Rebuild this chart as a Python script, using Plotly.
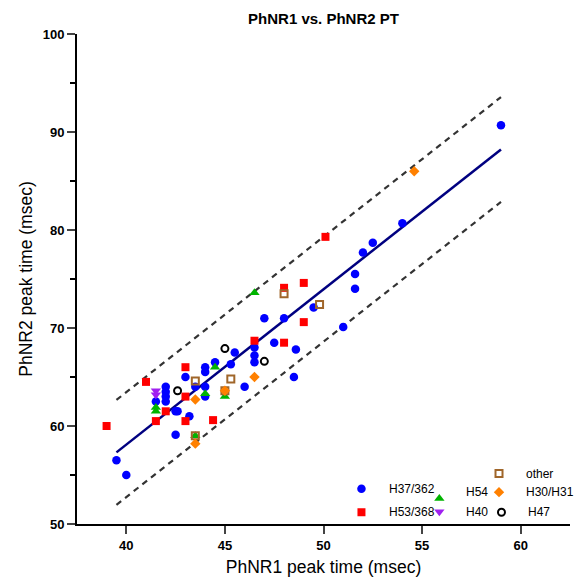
import plotly.graph_objects as go

# ---- data ----
h37_x = [39.5, 40, 41.5, 42, 42, 42, 42, 42.5, 42.6, 42.5, 43, 43.2, 43.5, 44, 44, 44, 44, 44.5,
         45.3, 45.5, 46, 46.5, 46.5, 46.5, 47, 47.5, 48, 48.5, 48.6, 49.5, 51, 51.6, 51.6, 52, 52.5, 54, 59]
h37_y = [56.5, 55, 62.5, 64, 63.5, 63, 62.5, 61.5, 61.5, 59.1, 65, 61, 64, 66, 65.5, 64, 63, 66.5,
         66.3, 67.5, 64, 68, 67.2, 66.5, 71, 68.5, 71, 65, 67.8, 72.1, 70.1, 75.5, 74, 77.7, 78.7, 80.7, 90.7]

h53_x = [39, 41, 41.5, 42, 43, 43, 43, 44.4, 46.5, 48, 48, 49, 49, 50.1]
h53_y = [60, 64.5, 60.5, 61.5, 66, 63, 60.5, 60.6, 68.7, 74.1, 68.5, 74.6, 70.6, 79.3]

h54_x = [41.5, 41.5, 43.5, 44, 44.5, 45, 46.5]
h54_y = [61.9, 61.5, 59, 63.3, 66, 63, 73.6]

h40_x = [41.5, 41.5]
h40_y = [63.6, 63.2]

other_x = [43.5, 43.5, 45, 45.3, 48, 49.8]
other_y = [64.6, 59, 63.6, 64.8, 73.5, 72.4]

h30_x = [43.5, 43.5, 45, 46.5, 54.6]
h30_y = [62.7, 58.2, 63.6, 65, 86]

h47_x = [42.6, 45, 47]
h47_y = [63.6, 67.9, 66.6]

# regression line + prediction band
fit_x = [39.5, 59.0]
fit_slope = 1.585
fit_intercept = -5.3
band_half = 5.35

x_ticks = [40, 45, 50, 55, 60]
y_ticks = [50, 60, 70, 80, 90, 100]

FONT = "Liberation Sans, Arial, sans-serif"

fit_y = [fit_slope * v + fit_intercept for v in fit_x]
up_y = [v + band_half for v in fit_y]
lo_y = [v - band_half for v in fit_y]

fig = go.Figure()

fig.add_trace(go.Scatter(x=fit_x, y=up_y, mode="lines",
                         line=dict(color="#333333", width=2.2, dash="6px,5px"), showlegend=False))
fig.add_trace(go.Scatter(x=fit_x, y=lo_y, mode="lines",
                         line=dict(color="#333333", width=2.2, dash="6px,5px"), showlegend=False))
fig.add_trace(go.Scatter(x=fit_x, y=fit_y, mode="lines",
                         line=dict(color="#000080", width=2.5), showlegend=False))

M_BLUE = dict(symbol="circle", size=8.5, color="#0000FF")
M_RED = dict(symbol="square", size=8, color="#FF0000")
M_GREEN = dict(symbol="triangle-up", size=9, color="#00B400")
M_PURPLE = dict(symbol="triangle-down", size=9, color="#A020F0")
M_BROWN = dict(symbol="square-open", size=7, color="#A0662A", line=dict(width=2, color="#A0662A"))
M_ORANGE = dict(symbol="diamond", size=8, color="#FF8000")
M_BLACK = dict(symbol="circle-open", size=7, color="#000000", line=dict(width=2, color="#000000"))

series = [
    (h37_x, h37_y, M_BLUE),
    (h53_x, h53_y, M_RED),
    (h54_x, h54_y, M_GREEN),
    (h40_x, h40_y, M_PURPLE),
    (other_x, other_y, M_BROWN),
    (h30_x, h30_y, M_ORANGE),
    (h47_x, h47_y, M_BLACK),
]
for sx, sy, mk in series:
    fig.add_trace(go.Scatter(x=sx, y=sy, mode="markers", marker=mk, showlegend=False, cliponaxis=False))

# custom legend (overlay axes spanning the plot area)
legend_items = [
    ("other", M_BROWN, 0.856, 0.103, 0.907, 0.103),
    ("H37/362", M_BLUE, 0.577, 0.072, 0.628, 0.072),
    ("H54", M_GREEN, 0.735, 0.052, 0.786, 0.066),
    ("H30/H31", M_ORANGE, 0.856, 0.065, 0.907, 0.065),
    ("H53/368", M_RED, 0.577, 0.024, 0.628, 0.024),
    ("H40", M_PURPLE, 0.735, 0.025, 0.786, 0.024),
    ("H47", M_BLACK, 0.861, 0.024, 0.911, 0.024),
]
annotations = []
for label, mk, mx, my, tx, ty in legend_items:
    fig.add_trace(go.Scatter(x=[mx], y=[my], mode="markers", marker=mk, showlegend=False,
                             xaxis="x2", yaxis="y2", cliponaxis=False))
    annotations.append(dict(text=label, x=tx, y=ty, xref="paper", yref="paper", xanchor="left",
                            yanchor="middle", showarrow=False, font=dict(family=FONT, size=12, color="black")))

# page body has an 8px default margin, so the figure is sized/offset to compensate
fig.update_layout(
    width=575, height=579,
    margin=dict(l=69, r=13, t=26, b=63),
    paper_bgcolor="white", plot_bgcolor="white",
    font=dict(family=FONT, color="black"),
    title=dict(text="PhNR1 vs. PhNR2 PT", x=0.5487, xanchor="center", y=0.982, yanchor="middle",
               font=dict(family=FONT, size=15, weight="bold", color="black")),
    xaxis=dict(range=[37.5, 62.5], tickvals=x_ticks, ticks="outside", ticklen=8, tickwidth=2,
               showline=True, linewidth=2, linecolor="black", showgrid=False, zeroline=False,
               tickfont=dict(family=FONT, size=13, weight="bold"),
               title=dict(text="PhNR1 peak time (msec)", font=dict(family=FONT, size=17.5), standoff=9)),
    yaxis=dict(range=[50, 100], tickvals=y_ticks, ticks="outside", ticklen=8, tickwidth=2,
               showline=True, linewidth=2, linecolor="black", showgrid=False, zeroline=False,
               minor=dict(dtick=5, tick0=50, ticks="outside", ticklen=5, tickwidth=2, tickcolor="black"),
               tickfont=dict(family=FONT, size=13, weight="bold"),
               title=dict(text="PhNR2 peak time (msec)", font=dict(family=FONT, size=17.5), standoff=6)),
    xaxis2=dict(overlaying="x", range=[0, 1], visible=False, anchor="y2"),
    yaxis2=dict(overlaying="y", range=[0, 1], visible=False, anchor="x2"),
    annotations=annotations,
)

fig.write_html("out.html")
